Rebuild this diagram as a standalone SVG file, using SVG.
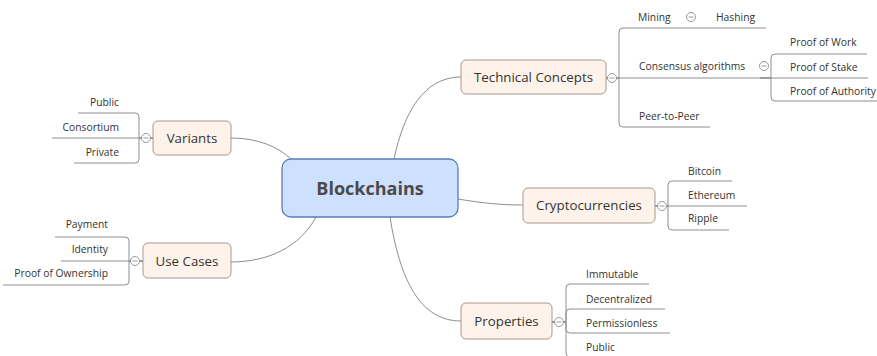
<svg xmlns="http://www.w3.org/2000/svg" width="877" height="356" viewBox="0 0 877 356">
<style>
.bg{fill:#ffffff}
.conn{fill:none;stroke:#8e8e8e;stroke-width:1}
.central rect{fill:#cde0fd;stroke:#5b7db6;stroke-width:1.3}
.central text{font-family:"Open Sans","Noto Sans",sans-serif;font-weight:bold;font-size:18px;fill:#4a4a4a;text-anchor:middle}
.main rect{fill:#fdf3ea;stroke:#a8998b;stroke-width:1}
.main text{font-family:"Open Sans","Noto Sans",sans-serif;font-size:13.3px;fill:#333333;text-anchor:middle}
.sub text{font-family:"Open Sans","Noto Sans",sans-serif;font-size:10.3px;fill:#333333}
.end{text-anchor:end}
.tog circle{fill:#ffffff;stroke:#8e8e8e;stroke-width:0.9}
.tog line{stroke:#8e8e8e;stroke-width:0.9}
</style>
<rect class="bg" x="0" y="0" width="877" height="356"/>
<g id="connectors">
  <path class="conn" d="M394,159 C404,112 424,77 461,77"/>
  <path class="conn" d="M458,199 C482,203 500,205 523,205"/>
  <path class="conn" d="M390,217 C400,280 420,321 461,321"/>
  <path class="conn" d="M231,138 C258,138 279,147 292,160"/>
  <path class="conn" d="M231,262 C268,262 300,247 316,217"/>
  <path class="conn" d="M606,78 H619 V32 Q619,28 623,28 H766"/>
  <path class="conn" d="M606,78 H868"/>
  <path class="conn" d="M606,78 H619 V123 Q619,127 623,127 H710"/>
  <path class="conn" d="M760,78 H771 V58 Q771,54 775,54 H867"/>
  <path class="conn" d="M760,78 H771 V97 Q771,101 775,101 H877"/>
  <path class="conn" d="M655,206 H668 V185 Q668,181 672,181 H732"/>
  <path class="conn" d="M655,206 H747"/>
  <path class="conn" d="M655,206 H668 V226 Q668,230 672,230 H729"/>
  <path class="conn" d="M552,322 H566 V288 Q566,284 570,284 H649"/>
  <path class="conn" d="M552,322 H566 V313 Q566,309 570,309 H665"/>
  <path class="conn" d="M552,322 H566 V329 Q566,333 570,333 H670"/>
  <path class="conn" d="M552,322 H566 V353 Q566,357 570,357 H660"/>
  <path class="conn" d="M153,138 H139 V117 Q139,113 135,113 H78"/>
  <path class="conn" d="M153,138 H52"/>
  <path class="conn" d="M153,138 H139 V159 Q139,163 135,163 H74"/>
  <path class="conn" d="M143,261 H129 V241 Q129,237 125,237 H55"/>
  <path class="conn" d="M143,261 H61"/>
  <path class="conn" d="M143,261 H129 V281 Q129,285 125,285 H3"/>
</g>
<g id="node-blockchains" class="central">
  <rect x="282" y="159" width="176" height="58" rx="9"/>
  <text x="370" y="195">Blockchains</text>
</g>
<g id="node-technical-concepts" class="main">
  <rect x="461" y="60" width="145" height="34" rx="5"/>
  <text x="533.5" y="82">Technical Concepts</text>
</g>
<g id="node-cryptocurrencies" class="main">
  <rect x="523" y="188" width="132" height="35" rx="5"/>
  <text x="589" y="210">Cryptocurrencies</text>
</g>
<g id="node-properties" class="main">
  <rect x="461" y="303" width="91" height="36" rx="5"/>
  <text x="506.5" y="326">Properties</text>
</g>
<g id="node-variants" class="main">
  <rect x="153" y="121" width="78" height="34" rx="5"/>
  <text x="192" y="143">Variants</text>
</g>
<g id="node-use-cases" class="main">
  <rect x="143" y="243" width="88" height="35" rx="5"/>
  <text x="187" y="266">Use Cases</text>
</g>
<g id="node-mining" class="sub"><text x="638" y="21">Mining</text></g>
<g id="node-hashing" class="sub"><text x="716" y="21">Hashing</text></g>
<g id="node-consensus" class="sub"><text x="639" y="70">Consensus algorithms</text></g>
<g id="node-peer" class="sub"><text x="639" y="120">Peer-to-Peer</text></g>
<g id="node-pow" class="sub"><text x="790" y="46">Proof of Work</text></g>
<g id="node-pos" class="sub"><text x="790" y="71">Proof of Stake</text></g>
<g id="node-poa" class="sub"><text x="790" y="95">Proof of Authority</text></g>
<g id="node-bitcoin" class="sub"><text x="688" y="175">Bitcoin</text></g>
<g id="node-ethereum" class="sub"><text x="688" y="199">Ethereum</text></g>
<g id="node-ripple" class="sub"><text x="688" y="222">Ripple</text></g>
<g id="node-immutable" class="sub"><text x="586" y="278">Immutable</text></g>
<g id="node-decentralized" class="sub"><text x="586" y="303">Decentralized</text></g>
<g id="node-permissionless" class="sub"><text x="586" y="327">Permissionless</text></g>
<g id="node-public-prop" class="sub"><text x="586" y="351">Public</text></g>
<g id="node-public" class="sub"><text class="end" x="119" y="106">Public</text></g>
<g id="node-consortium" class="sub"><text class="end" x="119" y="131">Consortium</text></g>
<g id="node-private" class="sub"><text class="end" x="119" y="156">Private</text></g>
<g id="node-payment" class="sub"><text class="end" x="108" y="228">Payment</text></g>
<g id="node-identity" class="sub"><text class="end" x="108" y="253">Identity</text></g>
<g id="node-ownership" class="sub"><text class="end" x="108" y="277">Proof of Ownership</text></g>
<g id="toggles" class="tog">
  <circle cx="612" cy="78" r="4.5"/><line x1="609.5" y1="78" x2="614.5" y2="78"/>
  <circle cx="691" cy="17" r="4.5"/><line x1="688.5" y1="17" x2="693.5" y2="17"/>
  <circle cx="764" cy="66" r="4.5"/><line x1="761.5" y1="66" x2="766.5" y2="66"/>
  <circle cx="662" cy="206" r="4.5"/><line x1="659.5" y1="206" x2="664.5" y2="206"/>
  <circle cx="559" cy="322" r="4.5"/><line x1="556.5" y1="322" x2="561.5" y2="322"/>
  <circle cx="146" cy="138" r="4.5"/><line x1="143.5" y1="138" x2="148.5" y2="138"/>
  <circle cx="135" cy="261" r="4.5"/><line x1="132.5" y1="261" x2="137.5" y2="261"/>
</g>
</svg>
